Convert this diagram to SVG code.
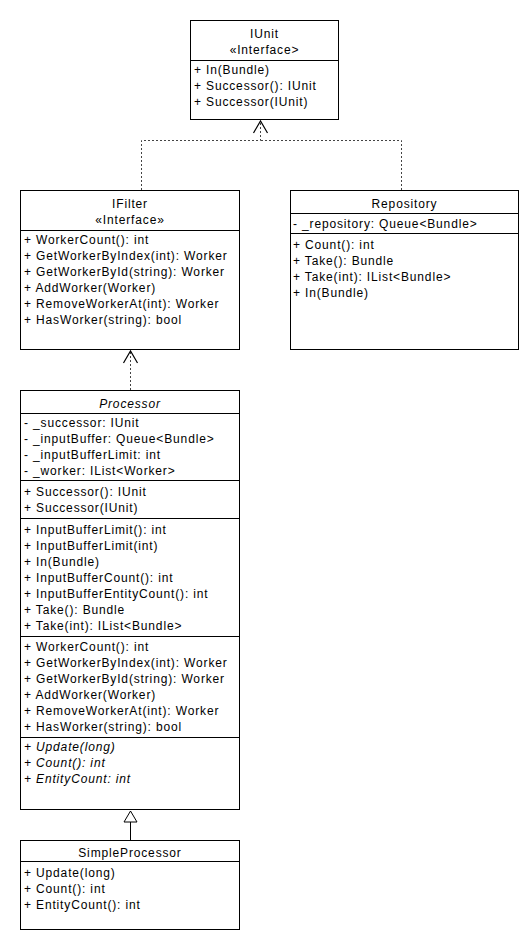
<svg xmlns="http://www.w3.org/2000/svg" width="530" height="950" viewBox="0 0 530 950">
<style>
.box{fill:#fff;stroke:#000;stroke-width:1}
.div{stroke:#000;stroke-width:1}
.t{font-family:"Liberation Sans",Arial,sans-serif;font-size:12px;letter-spacing:0.85px;fill:#000}
.c{text-anchor:middle}
.i{font-style:italic}
.dash{fill:none;stroke:#444;stroke-width:1;stroke-dasharray:2 2}
.solid{fill:none;stroke:#000;stroke-width:1}
</style>
<defs>
<marker id="open" markerUnits="userSpaceOnUse" markerWidth="30" markerHeight="30" refX="0" refY="0" orient="auto" viewBox="-15 -15 30 30" overflow="visible">
<path d="M-12,-7 L0,0 L-12,7" fill="none" stroke="#000" stroke-width="1.2" stroke-dasharray="none"/>
</marker>
<marker id="tri" markerUnits="userSpaceOnUse" markerWidth="30" markerHeight="30" refX="0" refY="0" orient="auto" viewBox="-15 -15 30 30" overflow="visible">
<path d="M-11,-6.5 L0,0 L-11,6.5 Z" fill="#fff" stroke="#000" stroke-width="1"/>
</marker>
</defs>
<rect width="530" height="950" fill="#fff"/>
<g id="connectors">
<path class="dash" d="M141.5,190 V140.5 H260.5 V121" marker-end="url(#open)"/>
<path class="dash" d="M401.5,190 V140.5 H260.5"/>
<path class="dash" d="M130.5,390 V351" marker-end="url(#open)"/>
<path class="solid" d="M130.5,840 V811" marker-end="url(#tri)"/>
</g>
<g id="IUnit">
<rect class="box" x="190.5" y="20.5" width="148" height="99"/>
<line class="div" x1="190.5" y1="60.5" x2="338.5" y2="60.5"/>
<text class="t c" x="264.5" y="38">IUnit</text>
<text class="t c" x="264.5" y="54">«Interface&gt;</text>
<text class="t" x="194" y="74">+ In(Bundle)</text>
<text class="t" x="194" y="90">+ Successor(): IUnit</text>
<text class="t" x="194" y="106">+ Successor(IUnit)</text>
</g>
<g id="IFilter">
<rect class="box" x="20.5" y="190.5" width="219" height="159"/>
<line class="div" x1="20.5" y1="230.5" x2="239.5" y2="230.5"/>
<text class="t c" x="130" y="208">IFilter</text>
<text class="t c" x="130" y="224">«Interface»</text>
<text class="t" x="24" y="244">+ WorkerCount(): int</text>
<text class="t" x="24" y="260">+ GetWorkerByIndex(int): Worker</text>
<text class="t" x="24" y="276">+ GetWorkerById(string): Worker</text>
<text class="t" x="24" y="292">+ AddWorker(Worker)</text>
<text class="t" x="24" y="308">+ RemoveWorkerAt(int): Worker</text>
<text class="t" x="24" y="324">+ HasWorker(string): bool</text>
</g>
<g id="Repository">
<rect class="box" x="290.5" y="190.5" width="228" height="159"/>
<line class="div" x1="290.5" y1="213.5" x2="518.5" y2="213.5"/>
<line class="div" x1="290.5" y1="233.5" x2="518.5" y2="233.5"/>
<text class="t c" x="404.5" y="208">Repository</text>
<text class="t" x="293" y="228">- _repository: Queue&lt;Bundle&gt;</text>
<text class="t" x="293" y="249">+ Count(): int</text>
<text class="t" x="293" y="265">+ Take(): Bundle</text>
<text class="t" x="293" y="281">+ Take(int): IList&lt;Bundle&gt;</text>
<text class="t" x="293" y="297">+ In(Bundle)</text>
</g>
<g id="Processor">
<rect class="box" x="20.5" y="390.5" width="219" height="419"/>
<line class="div" x1="20.5" y1="413.5" x2="239.5" y2="413.5"/>
<line class="div" x1="20.5" y1="480.5" x2="239.5" y2="480.5"/>
<line class="div" x1="20.5" y1="518.5" x2="239.5" y2="518.5"/>
<line class="div" x1="20.5" y1="636.5" x2="239.5" y2="636.5"/>
<line class="div" x1="20.5" y1="737.5" x2="239.5" y2="737.5"/>
<text class="t c i" x="130" y="408">Processor</text>
<text class="t" x="24" y="427">- _successor: IUnit</text>
<text class="t" x="24" y="443">- _inputBuffer: Queue&lt;Bundle&gt;</text>
<text class="t" x="24" y="459">- _inputBufferLimit: int</text>
<text class="t" x="24" y="475">- _worker: IList&lt;Worker&gt;</text>
<text class="t" x="24" y="496">+ Successor(): IUnit</text>
<text class="t" x="24" y="512">+ Successor(IUnit)</text>
<text class="t" x="24" y="534">+ InputBufferLimit(): int</text>
<text class="t" x="24" y="550">+ InputBufferLimit(int)</text>
<text class="t" x="24" y="566">+ In(Bundle)</text>
<text class="t" x="24" y="582">+ InputBufferCount(): int</text>
<text class="t" x="24" y="598">+ InputBufferEntityCount(): int</text>
<text class="t" x="24" y="614">+ Take(): Bundle</text>
<text class="t" x="24" y="630">+ Take(int): IList&lt;Bundle&gt;</text>
<text class="t" x="24" y="651">+ WorkerCount(): int</text>
<text class="t" x="24" y="667">+ GetWorkerByIndex(int): Worker</text>
<text class="t" x="24" y="683">+ GetWorkerById(string): Worker</text>
<text class="t" x="24" y="699">+ AddWorker(Worker)</text>
<text class="t" x="24" y="715">+ RemoveWorkerAt(int): Worker</text>
<text class="t" x="24" y="731">+ HasWorker(string): bool</text>
<text class="t i" x="24" y="751">+ Update(long)</text>
<text class="t i" x="24" y="767">+ Count(): int</text>
<text class="t i" x="24" y="783">+ EntityCount: int</text>
</g>
<g id="SimpleProcessor">
<rect class="box" x="20.5" y="840.5" width="219" height="89"/>
<line class="div" x1="20.5" y1="861.5" x2="239.5" y2="861.5"/>
<text class="t c" x="130" y="857">SimpleProcessor</text>
<text class="t" x="24" y="877">+ Update(long)</text>
<text class="t" x="24" y="893">+ Count(): int</text>
<text class="t" x="24" y="909">+ EntityCount(): int</text>
</g>
</svg>
